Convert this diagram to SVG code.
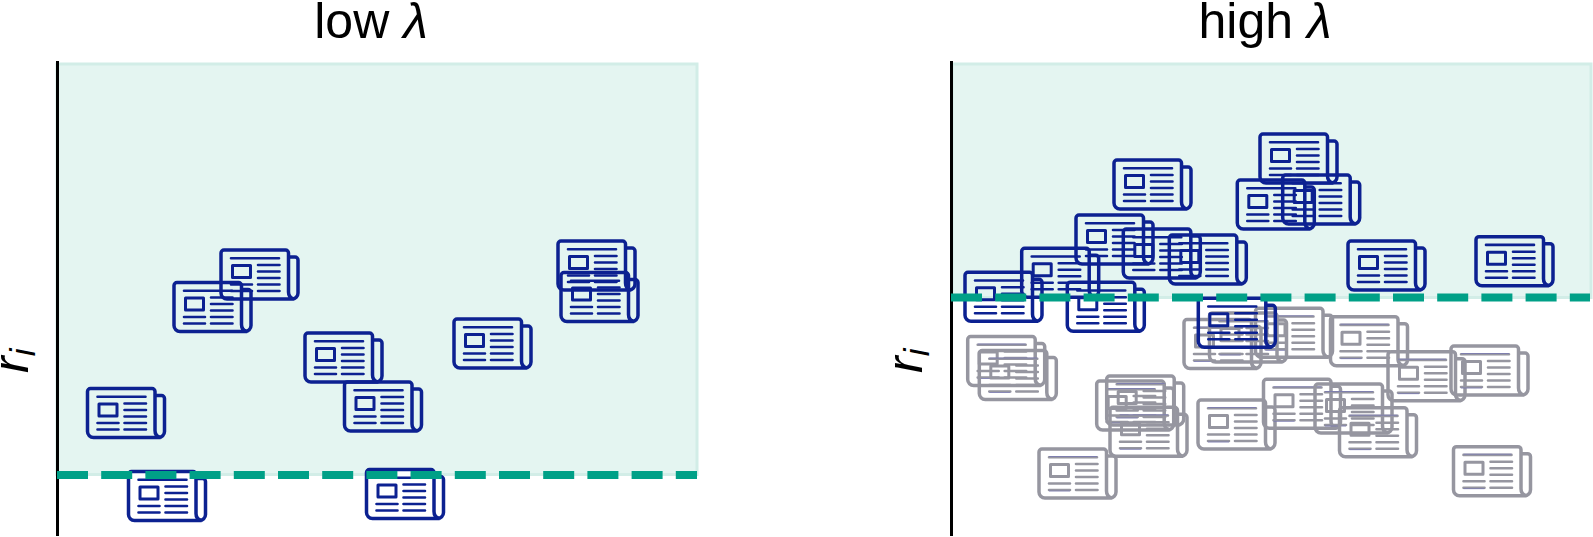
<svg xmlns="http://www.w3.org/2000/svg" width="1593" height="537" viewBox="0 0 1593 537">
<style>
.t{font-family:"Liberation Sans",Arial,sans-serif;font-size:50px;fill:#000}
.l{font-style:italic}
.ic{fill:none;stroke-width:3.500;stroke-linecap:round;stroke-linejoin:round}
.navy{stroke:#0c2191}
.grey{stroke:#9696a0}
.band{fill:#e4f5f1;stroke:#d2ede7;stroke-width:3}
.axis{stroke:#000;stroke-width:3;fill:none}
.thr{stroke:#00a087;stroke-width:8;stroke-dasharray:31 13.2;fill:none}
.gap{fill:#fff}
.inner{stroke-width:2.600}
.box{stroke-width:3}
.tint{stroke:#6f6fb8;stroke-width:1;stroke-linecap:butt;stroke-opacity:.6}
</style>
<defs>
<g id="paper">
<path d="M67.500 42V3a3 3 0 0 0-3-3H3a3 3 0 0 0-3 3V43a6 6 0 0 0 6 6H71a6 6 0 0 0 6-6V10a3 3 0 0 0-3-3H67.500M67.500 42c0 4 2 6 5 7"/>
<path class="inner" d="M10 8.200H58M37 15H58.500M37 21.500H58.500M37 28H58.500M37 34.500H58.500M37 41H58.500M10 34.500H31M10 41H31"/>
<rect class="box" x="11.500" y="15.500" width="18" height="12"/>
</g>
<g id="paper-g">
<use href="#paper"/>
<path class="tint" d="M10 7.500H58M10 42H31"/>
</g>
</defs>
<g id="left-panel">
<rect class="band" x="57" y="64" width="640" height="410.500"/>
<path class="axis" d="M57.500 61V536"/>
<text class="t" x="371" y="38" text-anchor="middle">low <tspan class="l">λ</tspan></text>
<text class="t" transform="translate(28 373) rotate(-90)"><tspan class="l">r</tspan><tspan class="l" font-size="35" dy="7">i</tspan></text>
</g>
<g id="right-panel">
<rect class="band" x="952" y="64" width="639" height="233.500"/>
<path class="axis" d="M951.500 61V536"/>
<text class="t" x="1265" y="38" text-anchor="middle">high <tspan class="l">λ</tspan></text>
<text class="t" transform="translate(922 373) rotate(-90)"><tspan class="l">r</tspan><tspan class="l" font-size="35" dy="7">i</tspan></text>
</g>
<g id="notches">
<rect class="gap" x="132" y="471" width="13.200" height="6"/>
<rect class="gap" x="176.200" y="471" width="13.200" height="6"/>
<rect class="gap" x="397" y="471" width="13.200" height="6"/>
</g>
<g id="items-low" class="ic navy">
<g id="l1"><use href="#paper" x="87.500" y="388.500"/></g>
<g id="l2"><use href="#paper" x="128.500" y="471.500"/></g>
<g id="l3"><use href="#paper" x="366.500" y="469.500"/></g>
<g id="l4"><use href="#paper" x="221" y="250"/></g>
<g id="l5"><use href="#paper" x="174" y="282.500"/></g>
<g id="l6"><use href="#paper" x="305" y="333"/></g>
<g id="l7"><use href="#paper" x="344.500" y="382"/></g>
<g id="l8"><use href="#paper" x="454" y="319"/></g>
<g id="l9"><use href="#paper" x="558" y="241"/></g>
<g id="l10"><use href="#paper" x="561" y="272.500"/></g>
</g>
<g id="items-high-grey" class="ic grey">
<g id="g1"><use href="#paper-g" x="967.700" y="336.500"/></g>
<g id="g2"><use href="#paper-g" x="979.300" y="350.500"/></g>
<g id="g3"><use href="#paper-g" x="1096.700" y="381"/></g>
<g id="g4"><use href="#paper-g" x="1106.700" y="376"/></g>
<g id="g5"><use href="#paper-g" x="1110" y="407.300"/></g>
<g id="g6"><use href="#paper-g" x="1039" y="449"/></g>
<g id="g7"><use href="#paper-g" x="1198" y="400"/></g>
<g id="g8"><use href="#paper-g" x="1263.500" y="379.300"/></g>
<g id="g9"><use href="#paper-g" x="1315" y="384"/></g>
<g id="g10"><use href="#paper-g" x="1184" y="319.500"/></g>
<g id="g11"><use href="#paper-g" x="1255.500" y="308.300"/></g>
<g id="g12"><use href="#paper-g" x="1330.500" y="316.700"/></g>
<g id="g13"><use href="#paper-g" x="1388" y="351.700"/></g>
<g id="g14"><use href="#paper-g" x="1451" y="346"/></g>
<g id="g15"><use href="#paper-g" x="1339.500" y="407.700"/></g>
<g id="g16"><use href="#paper-g" x="1453.500" y="446.700"/></g>
<g id="g17"><use href="#paper-g" x="1209.500" y="313"/></g>
</g>
<g id="items-high" class="ic navy">
<g id="h1"><use href="#paper" x="1260" y="134"/></g>
<g id="h2"><use href="#paper" x="1237.300" y="180"/></g>
<g id="h3"><use href="#paper" x="1282.700" y="175"/></g>
<g id="h4"><use href="#paper" x="1114" y="160"/></g>
<g id="h5"><use href="#paper" x="1076" y="215"/></g>
<g id="h6"><use href="#paper" x="1123.300" y="229"/></g>
<g id="h7"><use href="#paper" x="1169.300" y="235"/></g>
<g id="h8"><use href="#paper" x="1021.700" y="248.300"/></g>
<g id="h9"><use href="#paper" x="965" y="272.300"/></g>
<g id="h10"><use href="#paper" x="1067.300" y="282.300"/></g>
<g id="h11"><use href="#paper" x="1198.300" y="298.300"/></g>
<g id="h12"><use href="#paper" x="1348" y="241"/></g>
<g id="h13"><use href="#paper" x="1476" y="236.700"/></g>
</g>
<g id="connectors">
<path class="thr" d="M57 475H697"/>
<path class="thr" d="M951 297.500H1590"/>
</g>
</svg>
